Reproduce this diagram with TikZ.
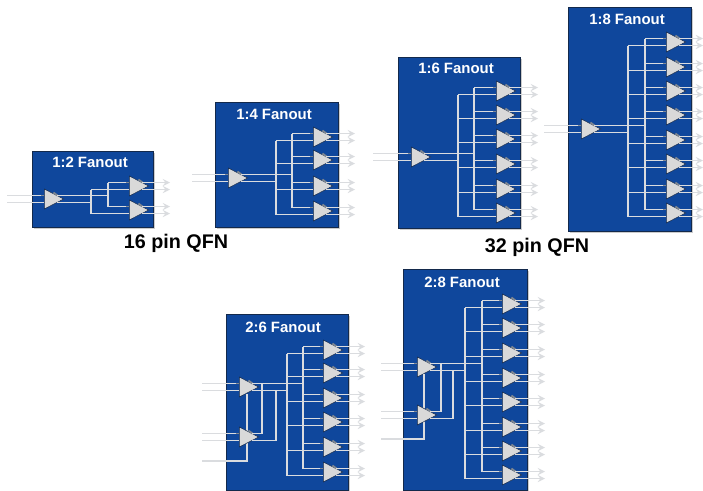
\documentclass[tikz,border=0pt]{standalone}
\usepackage{fontspec}
\setmainfont{Liberation Sans}
\usetikzlibrary{arrows,calc,fit,shadows,shapes.geometric}
\definecolor{chipblue}{HTML}{0F479C}
\definecolor{chipline}{HTML}{13294B}
\definecolor{wiregray}{HTML}{DADCDF}
\definecolor{bufgray}{HTML}{D9D9D9}
\definecolor{pingray}{HTML}{7F8791}

% input buffer: name, left x, centre y, start of the input wires
\newcommand{\inbuf}[4]{
  \node[buf] (#1) at (#2,#3) {};
  \coordinate (#1t) at ($(#1.west)+(0,-3.5)$);
  \coordinate (#1b) at ($(#1.west)+(0,3.5)$);
  \coordinate (#1p) at ($(#1.east)+(-7,-3.5)$);
  \coordinate (#1q) at ($(#1.east)+(-7,3.5)$);
  \draw[wire] (#4 |- #1t) -- (#1t);
  \draw[wire] (#4 |- #1b) -- (#1b);
  \draw[pin] ($(#1t)+(-3,0)$) -- (#1t);
  \draw[pin] ($(#1p)+(-4,-3)$) -- (#1p);
}
% output buffer: name, left x, centre y, top rail, bottom rail, end of the outputs
\newcommand{\outbuf}[6]{
  \inbuf{#1}{#2}{#3}{#4}
  \draw[wire] (#5 |- #1b) -- (#1b);
  \draw[wire,->] (#1p) -- (#1p -| #6);
  \draw[wire,->] (#1q) -- (#1q -| #6);
}

\begin{document}
\begin{tikzpicture}[
  x=0.75pt, y=-0.75pt,
  chip/.style={rectangle, draw=chipline, line width=0.7pt, fill=chipblue, inner sep=0pt,
               drop shadow={shadow xshift=1.4pt, shadow yshift=-1.4pt, opacity=0.4}},
  title/.style={text=white, font=\fontsize{11.2}{13}\selectfont\bfseries, inner sep=0pt},
  pkg/.style={text=black, font=\fontsize{14.8}{16}\selectfont\bfseries, inner sep=0pt},
  buf/.style={isosceles triangle, isosceles triangle stretches, shape border rotate=0,
              anchor=west, minimum width=15pt, minimum height=14.6pt, inner sep=0pt,
              draw=chipline, line width=0.4pt, fill=bufgray},
  wire/.style={>=stealth, line width=1.4pt, wiregray},
  pin/.style={line width=1.4pt, pingray},
]
\useasboundingbox (0,0) rectangle (703,490);

% 1:2 Fanout
\node[chip, fit={(32,151)(153,227)}] (F12) {};
\node[title] (T12) at (90,162) {1:2 Fanout};
\coordinate (S12) at (7,0);
\coordinate (A12) at (108,0);
\coordinate (B12) at (91,0);
\coordinate (E12) at (170,0);
\inbuf{I12}{44}{199}{S12}
\outbuf{O121}{129}{186}{A12}{B12}{E12}
\outbuf{O122}{129}{210}{A12}{B12}{E12}
\draw[wire] (I12p) -- (A12 |- I12p);
\draw[wire] (I12q) -- (B12 |- I12q);
\draw[wire] (A12 |- O121t) -- (A12 |- O122t);
\draw[wire] (B12 |- O121b) -- (B12 |- O122b);

% 1:4 Fanout
\node[chip, fit={(215,102)(338,227)}] (F14) {};
\node[title] (T14) at (274,114) {1:4 Fanout};
\coordinate (S14) at (192,0);
\coordinate (A14) at (292,0);
\coordinate (B14) at (276,0);
\coordinate (E14) at (355,0);
\inbuf{I14}{228}{178}{S14}
\outbuf{O141}{313}{137}{A14}{B14}{E14}
\outbuf{O142}{313}{160}{A14}{B14}{E14}
\outbuf{O143}{313}{186}{A14}{B14}{E14}
\outbuf{O144}{313}{211}{A14}{B14}{E14}
\draw[wire] (I14p) -- (A14 |- I14p);
\draw[wire] (I14q) -- (B14 |- I14q);
\draw[wire] (A14 |- O141t) -- (A14 |- O144t);
\draw[wire] (B14 |- O141b) -- (B14 |- O144b);

% 1:6 Fanout
\node[chip, fit={(398,57)(520,228)}] (F16) {};
\node[title] (T16) at (456,68) {1:6 Fanout};
\coordinate (S16) at (373,0);
\coordinate (A16) at (474,0);
\coordinate (B16) at (458,0);
\coordinate (E16) at (538,0);
\inbuf{I16}{411}{157}{S16}
\outbuf{O161}{496}{91}{A16}{B16}{E16}
\outbuf{O162}{496}{115}{A16}{B16}{E16}
\outbuf{O163}{496}{139}{A16}{B16}{E16}
\outbuf{O164}{496}{164}{A16}{B16}{E16}
\outbuf{O165}{496}{189}{A16}{B16}{E16}
\outbuf{O166}{496}{213}{A16}{B16}{E16}
\draw[wire] (I16p) -- (A16 |- I16p);
\draw[wire] (I16q) -- (B16 |- I16q);
\draw[wire] (A16 |- O161t) -- (A16 |- O166t);
\draw[wire] (B16 |- O161b) -- (B16 |- O166b);

% 1:8 Fanout
\node[chip, fit={(568,7)(691,231)}] (F18) {};
\node[title] (T18) at (627,19) {1:8 Fanout};
\coordinate (S18) at (544,0);
\coordinate (A18) at (645,0);
\coordinate (B18) at (628,0);
\coordinate (E18) at (703,0);
\inbuf{I18}{581}{129}{S18}
\outbuf{O181}{666}{42}{A18}{B18}{E18}
\outbuf{O182}{666}{67}{A18}{B18}{E18}
\outbuf{O183}{666}{91}{A18}{B18}{E18}
\outbuf{O184}{666}{115}{A18}{B18}{E18}
\outbuf{O185}{666}{140}{A18}{B18}{E18}
\outbuf{O186}{666}{164}{A18}{B18}{E18}
\outbuf{O187}{666}{189}{A18}{B18}{E18}
\outbuf{O188}{666}{213}{A18}{B18}{E18}
\draw[wire] (I18p) -- (A18 |- I18p);
\draw[wire] (I18q) -- (B18 |- I18q);
\draw[wire] (A18 |- O181t) -- (A18 |- O188t);
\draw[wire] (B18 |- O181b) -- (B18 |- O188b);

% 2:6 Fanout
\node[chip, fit={(226,314)(348,490)}] (F26) {};
\node[title] (T26) at (283,327) {2:6 Fanout};
\coordinate (S26) at (202,0);
\coordinate (A26) at (303,0);
\coordinate (B26) at (287,0);
\coordinate (J26a) at (262,0);
\coordinate (J26b) at (276,0);
\coordinate (K26) at (202,461);
\coordinate (E26) at (365,0);
\inbuf{I261}{239}{387}{S26}
\draw[wire] (K26) -| ($(I261.west)+(8,7)$);
\inbuf{I262}{239}{437}{S26}
\outbuf{O261}{323}{350}{A26}{B26}{E26}
\outbuf{O262}{323}{373}{A26}{B26}{E26}
\outbuf{O263}{323}{398}{A26}{B26}{E26}
\outbuf{O264}{323}{422}{A26}{B26}{E26}
\outbuf{O265}{323}{447}{A26}{B26}{E26}
\outbuf{O266}{323}{472}{A26}{B26}{E26}
\draw[wire] (I261p) -- (A26 |- I261p);
\draw[wire] (I261q) -- (B26 |- I261q);
\draw[wire] (I262p) -| (J26a |- I261p);
\draw[wire] (I262q) -| (J26b |- I261q);
\draw[wire] (A26 |- O261t) -- (A26 |- O266t);
\draw[wire] (B26 |- O261b) -- (B26 |- O266b);

% 2:8 Fanout
\node[chip, fit={(403,269)(527,490)}] (F28) {};
\node[title] (T28) at (462,282) {2:8 Fanout};
\coordinate (S28) at (381,0);
\coordinate (A28) at (482,0);
\coordinate (B28) at (465,0);
\coordinate (J28a) at (441,0);
\coordinate (J28b) at (453,0);
\coordinate (K28) at (381,439);
\coordinate (E28) at (545,0);
\inbuf{I281}{417}{367}{S28}
\draw[wire] (K28) -| ($(I281.west)+(7,7)$);
\inbuf{I282}{417}{415}{S28}
\outbuf{O281}{502}{304}{A28}{B28}{E28}
\outbuf{O282}{502}{328}{A28}{B28}{E28}
\outbuf{O283}{502}{353}{A28}{B28}{E28}
\outbuf{O284}{502}{378}{A28}{B28}{E28}
\outbuf{O285}{502}{402}{A28}{B28}{E28}
\outbuf{O286}{502}{427}{A28}{B28}{E28}
\outbuf{O287}{502}{451}{A28}{B28}{E28}
\outbuf{O288}{502}{475}{A28}{B28}{E28}
\draw[wire] (I281p) -- (A28 |- I281p);
\draw[wire] (I281q) -- (B28 |- I281q);
\draw[wire] (I282p) -| (J28a |- I281p);
\draw[wire] (I282q) -| (J28b |- I281q);
\draw[wire] (A28 |- O281t) -- (A28 |- O288t);
\draw[wire] (B28 |- O281b) -- (B28 |- O288b);

% Package labels
\node[pkg] (P16) at (176,243) {16 pin QFN};
\node[pkg] (P32) at (537,247) {32 pin QFN};

\end{tikzpicture}
\end{document}
